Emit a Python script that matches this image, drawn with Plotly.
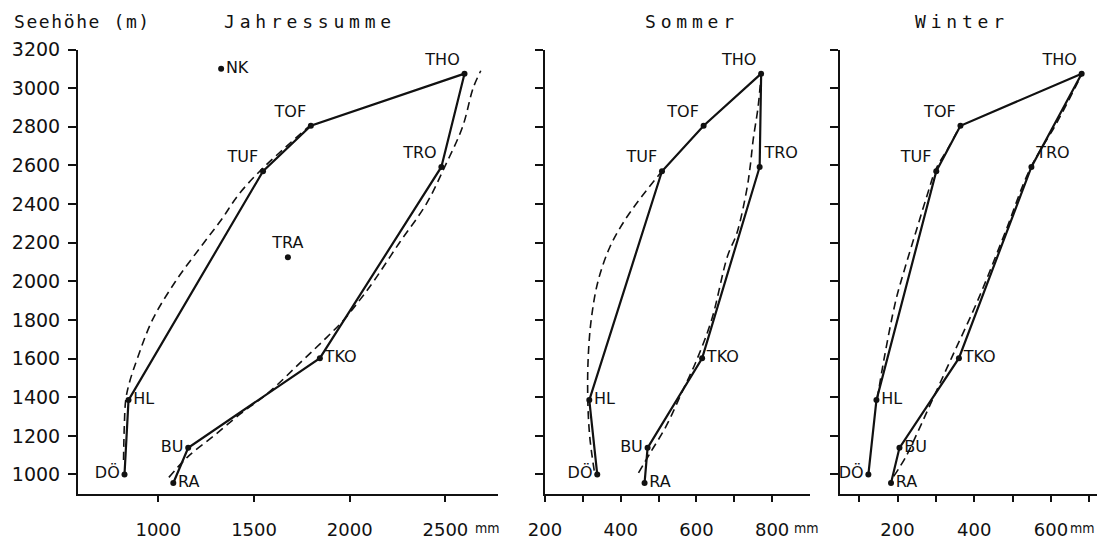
import plotly.graph_objects as go

W, H = 1103, 539

# ---------------- data ----------------
stations = ["DÖ", "HL", "TUF", "TOF", "THO", "TRO", "TKO", "BU", "RA"]
elevation = [1000, 1385, 2570, 2805, 3075, 2592, 1602, 1138, 956]

jahr_mm = [823, 844, 1547, 1797, 2600, 2479, 1844, 1156, 1078]
sommer_mm = [338, 317, 509, 619, 771, 767, 615, 471, 463]
winter_mm = [124, 145, 301, 364, 680, 549, 360, 205, 183]

extra_names = ["TRA", "NK"]
extra_elev = [2125, 3100]
extra_jahr = [1677, 1328]

# dashed (smoothed) profiles
jahr_left_x = [818, 822, 830, 850, 890, 969, 1090, 1238, 1330, 1420, 1530, 1660, 1790]
jahr_left_y = [1075, 1250, 1390, 1480, 1600, 1800, 2000, 2200, 2320, 2450, 2570, 2690, 2805]
jahr_right_x = [1055, 1151, 1290, 1430, 1569, 1752, 1880, 1969, 2050, 2125, 2260, 2400, 2500, 2590, 2645, 2685]
jahr_right_y = [985, 1089, 1200, 1315, 1418, 1589, 1710, 1800, 1900, 2000, 2200, 2400, 2600, 2800, 3000, 3090]

som_left_x = [330, 318, 313, 314, 322, 340, 372, 412, 456, 509]
som_left_y = [1020, 1200, 1390, 1600, 1800, 2000, 2180, 2320, 2440, 2570]
som_right_x = [447, 478, 520, 565, 598, 640, 682, 707, 733, 742, 750, 763, 771]
som_right_y = [1008, 1112, 1250, 1440, 1580, 1800, 2130, 2250, 2475, 2595, 2734, 2905, 3075]

win_left_x = [147, 165, 196, 218, 250, 279, 300, 335, 362]
win_left_y = [1390, 1600, 1905, 2060, 2270, 2457, 2580, 2700, 2800]
win_right_x = [190, 222, 255, 283, 340, 410, 480, 545, 615, 680]
win_right_y = [990, 1093, 1230, 1352, 1600, 1905, 2250, 2580, 2820, 3070]

jahr_pos = ["middle left", "middle right", "top left", "top left", "top left",
            "top left", "middle right", "middle left", "middle right"]
som_pos = ["middle left", "middle right", "top left", "top left", "top left",
           "top right", "middle right", "middle left", "middle right"]
win_pos = ["middle left", "middle right", "top left", "top left", "top left",
           "top right", "middle right", "middle right", "middle right"]
extra_pos = ["top center", "middle right"]

y_ticks = [1000, 1200, 1400, 1600, 1800, 2000, 2200, 2400, 2600, 2800, 3000, 3200]
jahr_ticks = [1000, 1500, 2000, 2500]
som_ticks = [200, 300, 400, 500, 600, 700, 800]
som_ticktext = ["200", "", "400", "", "600", "", "800"]
win_ticks = [100, 200, 300, 400, 500, 600, 700]
win_ticktext = ["", "200", "", "400", "", "600", ""]

# ---------------- figure ----------------
INK = "#111111"
LBL_FONT = dict(family="DejaVu Sans", size=16, color=INK)

fig = go.Figure()

panels = [
    ("x", "y", jahr_mm, jahr_pos, [(jahr_left_x, jahr_left_y), (jahr_right_x, jahr_right_y)]),
    ("x2", "y2", sommer_mm, som_pos, [(som_left_x, som_left_y), (som_right_x, som_right_y)]),
    ("x3", "y3", winter_mm, win_pos, [(win_left_x, win_left_y), (win_right_x, win_right_y)]),
]

for xa, ya, vals, pos, dashed in panels:
    for dx, dy in dashed:
        fig.add_trace(go.Scatter(x=dx, y=dy, xaxis=xa, yaxis=ya, mode="lines",
                                 line=dict(color=INK, width=1.6, dash="8px,5px", shape="spline", smoothing=1.0),
                                 hoverinfo="skip", showlegend=False))
    fig.add_trace(go.Scatter(x=vals, y=elevation, xaxis=xa, yaxis=ya, mode="lines+markers+text",
                             text=stations, textposition=pos, textfont=LBL_FONT,
                             line=dict(color=INK, width=2.2),
                             marker=dict(color=INK, size=6),
                             showlegend=False))

fig.add_trace(go.Scatter(x=extra_jahr, y=extra_elev, xaxis="x", yaxis="y", mode="markers+text",
                         text=extra_names, textposition=extra_pos, textfont=LBL_FONT,
                         marker=dict(color=INK, size=6), showlegend=False))

y_top = 1 - 49.5 / H
y_bot = 1 - 494 / H
YR = [899, 3200]

common_x = dict(showgrid=False, zeroline=False, showline=True, linecolor=INK, linewidth=2,
                ticks="outside", ticklen=6, tickwidth=2, tickcolor=INK,
                tickfont=dict(family="DejaVu Sans", size=18, color=INK),
                ticklabelstandoff=12, fixedrange=True, automargin=False)
common_y = dict(showgrid=False, zeroline=False, showline=True, linecolor=INK, linewidth=2,
                ticks="outside", ticklen=8, tickwidth=2, tickcolor=INK,
                tickvals=y_ticks, range=YR, domain=[y_bot, y_top],
                tickfont=dict(family="DejaVu Sans", size=19, color=INK),
                ticklabelstandoff=4, fixedrange=True, automargin=False)

fig.update_layout(
    width=W, height=H,
    margin=dict(l=0, r=0, t=0, b=0, pad=0, autoexpand=False),
    paper_bgcolor="white", plot_bgcolor="white",
    showlegend=False,
    xaxis=dict(common_x, domain=[78 / W, 498 / W], range=[580, 2775], anchor="y",
               tickvals=jahr_ticks),
    yaxis=dict(common_y, anchor="x"),
    xaxis2=dict(common_x, domain=[545 / W, 810 / W], range=[200, 900], anchor="y2",
                tickvals=som_ticks, ticktext=som_ticktext),
    yaxis2=dict(common_y, anchor="x2", showticklabels=False),
    xaxis3=dict(common_x, domain=[840 / W, 1097 / W], range=[50, 720], anchor="y3",
                tickvals=win_ticks, ticktext=win_ticktext),
    yaxis3=dict(common_y, anchor="x3", showticklabels=False),
)

TITLE_FONT = dict(family="DejaVu Sans Mono", size=18, color=INK)
titles = [
    ("<span style='letter-spacing:1.6px'>Seehöhe (m)</span>", 12 / W),
    ("<span style='letter-spacing:4.8px'>Jahressumme</span>", 222 / W),
    ("<span style='letter-spacing:4.8px'>Sommer</span>", 643 / W),
    ("<span style='letter-spacing:4.8px'>Winter</span>", 913 / W),
]
for txt, xp in titles:
    fig.add_annotation(text=txt, x=xp, y=1 - 21.5 / H, xref="paper", yref="paper",
                       xanchor="left", yanchor="middle", showarrow=False, font=TITLE_FONT)

MM_FONT = dict(family="DejaVu Sans Condensed", size=14, color=INK)
for xr, xv, sh in [("x", 2500, 28), ("x2", 800, 20), ("x3", 600, 17)]:
    fig.add_annotation(text="mm", x=xv, xref=xr, y=1 - 537.5 / H, yref="paper",
                       xanchor="left", yanchor="bottom", xshift=sh, showarrow=False, font=MM_FONT)

fig.write_html("out.html",
               config={"displayModeBar": False},
               post_script="document.body.style.margin='0px';document.body.style.overflow='hidden';")
